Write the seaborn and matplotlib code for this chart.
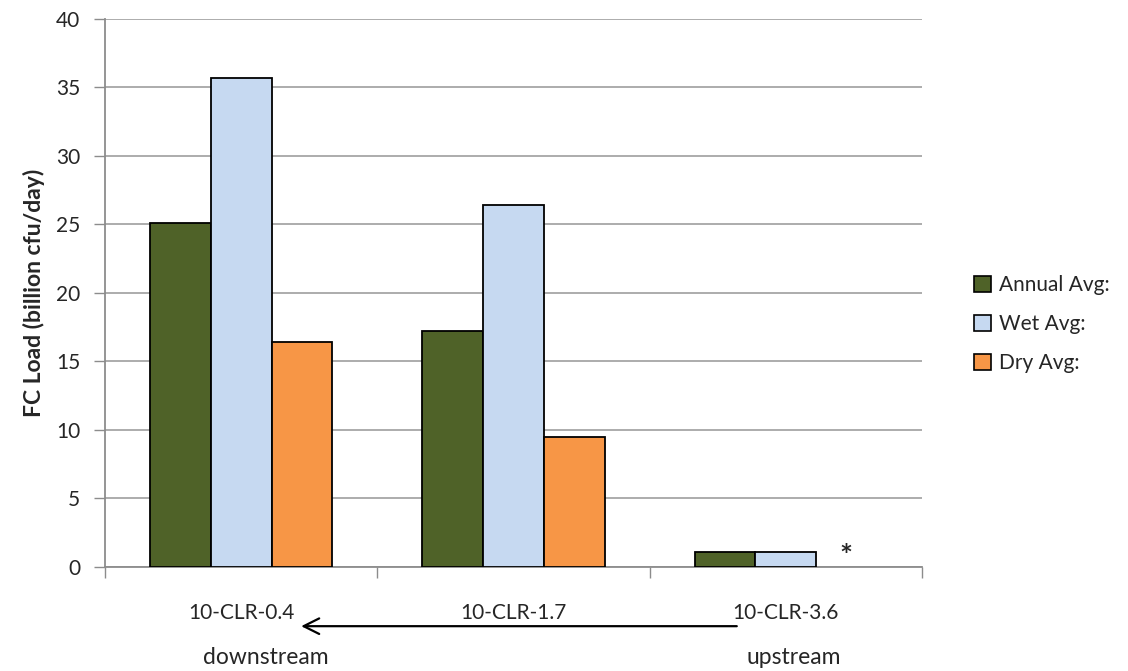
import numpy as np
import pandas as pd
import matplotlib
matplotlib.use("Agg")
import matplotlib.pyplot as plt
import matplotlib.transforms as mtransforms
import seaborn as sns

# Sampling sites, ordered downstream -> upstream
sites = ["10-CLR-0.4", "10-CLR-1.7", "10-CLR-3.6"]
series = ["Annual Avg:", "Wet Avg:", "Dry Avg:"]

# Fecal coliform loads (billion cfu/day)
annual_avg = [25.1, 17.2, 1.1]
wet_avg = [35.7, 26.4, 1.1]
dry_avg = [16.4, 9.5, np.nan]   # no dry-weather load computed at 10-CLR-3.6

colors = ["#4F6228", "#C6D9F1", "#F79646"]
y_ticks = [0, 5, 10, 15, 20, 25, 30, 35, 40]

df = pd.DataFrame({
    "site": sites * 3,
    "stat": [s for s in series for _ in sites],
    "load": annual_avg + wet_avg + dry_avg,
})

sns.set_theme(style="white")
plt.rcParams["font.family"] = ["Lato", "DejaVu Sans"]

fig = plt.figure(figsize=(11.28, 6.71), dpi=100)
ax = fig.add_axes([0.0931, 0.155, 0.7243, 0.8167])

sns.barplot(data=df, x="site", y="load", hue="stat", order=sites,
            hue_order=series, palette=colors, saturation=1, width=0.67,
            edgecolor="black", linewidth=1.3, gap=0, ax=ax, legend=False,
            zorder=3)

ax.set_xlim(-0.5, 2.5)
ax.set_ylim(0, 40)
ax.set_yticks(y_ticks)
ax.set_xticks([-0.5, 0.5, 1.5, 2.5], minor=False)
ax.set_xticklabels([])
ax.set_xticks([0, 1, 2], minor=True)
ax.set_xticklabels(sites, minor=True, fontsize=15)
ax.tick_params(axis="x", which="minor", length=0, pad=26)
ax.tick_params(axis="x", which="major", length=8, width=1, color="#8c8c8c",
               direction="out", bottom=True)
ax.tick_params(axis="y", length=8, width=1, color="#8c8c8c", direction="out",
               left=True, labelsize=15, pad=10)
ax.yaxis.grid(True, color="#a6a6a6", linewidth=1.3, zorder=0)
ax.set_axisbelow(True)
for side in ["top", "right"]:
    ax.spines[side].set_visible(False)
for side in ["left", "bottom"]:
    ax.spines[side].set_color("#8c8c8c")
    ax.spines[side].set_linewidth(1.3)
ax.set_xlabel("")
ax.set_ylabel("FC Load (billion cfu/day)", fontsize=16.5, fontweight="bold",
              labelpad=8)

# Marker for the missing dry-weather value
ax.text(2.22, 0.75, "*", ha="center", va="center", fontsize=22,
        fontweight="bold")

# Flow direction annotation below the category labels
trans = mtransforms.blended_transform_factory(ax.transData, ax.transAxes)
ax.annotate("", xy=(0.21, -0.108), xytext=(1.83, -0.108),
            xycoords=trans, textcoords=trans, annotation_clip=False,
            arrowprops=dict(arrowstyle="->", color="black", lw=1.6,
                            mutation_scale=28))
ax.text(0.09, -0.165, "downstream", transform=trans, ha="center",
        va="center", fontsize=16.5)
ax.text(2.03, -0.165, "upstream", transform=trans, ha="center",
        va="center", fontsize=16.5)

handles = [plt.Rectangle((0, 0), 1, 1, facecolor=c, edgecolor="black",
                         linewidth=1.2) for c in colors]
fig.legend(handles, series, loc="center left", bbox_to_anchor=(0.847, 0.517),
           frameon=False, fontsize=15, handlelength=0.8, handleheight=0.8,
           handletextpad=0.4, labelspacing=0.9)

fig.savefig("out.png", dpi=100)
